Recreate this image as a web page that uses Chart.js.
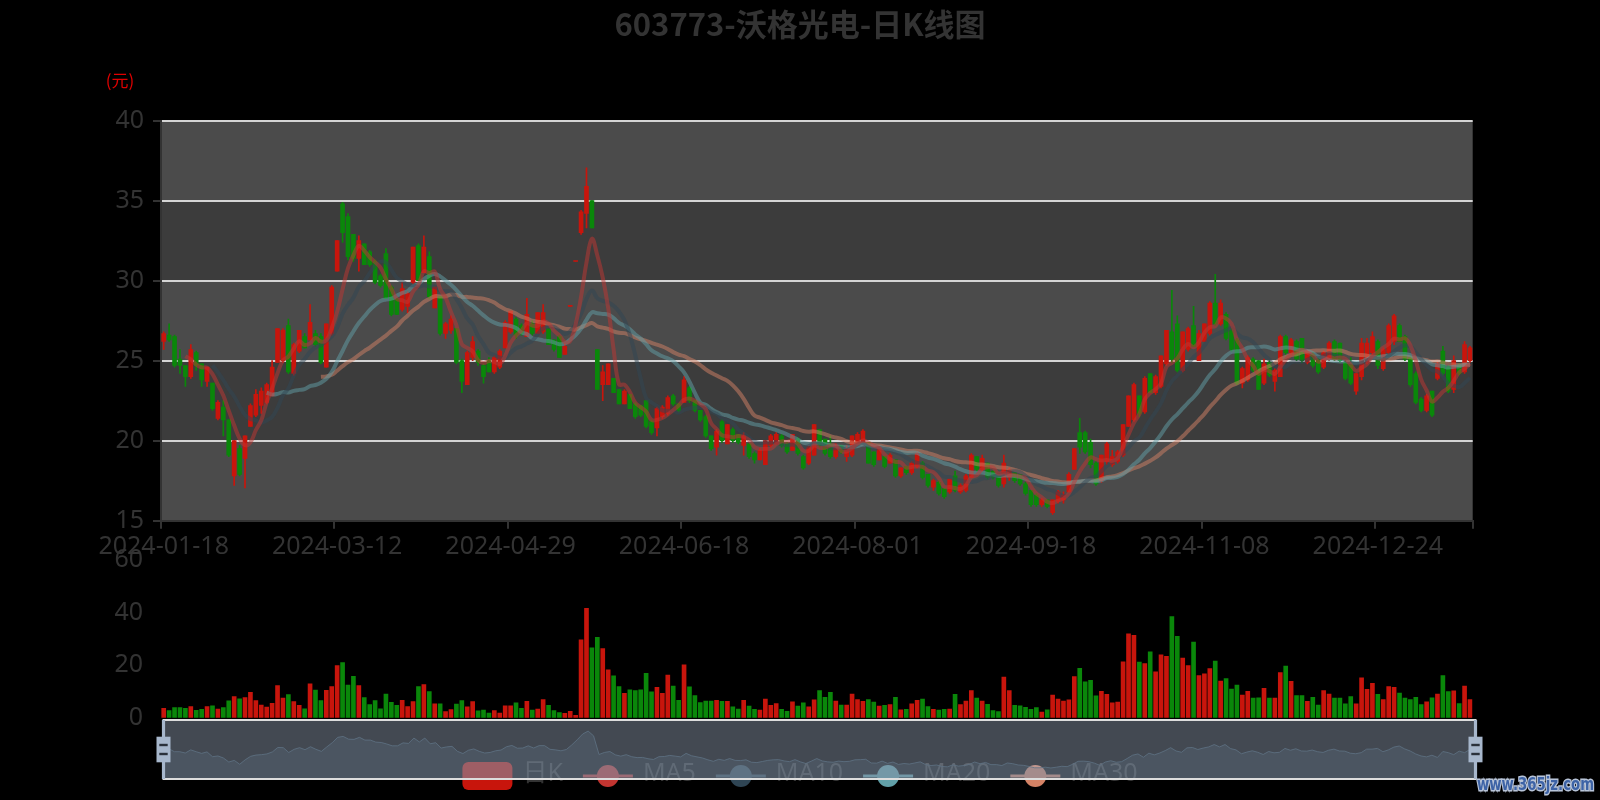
<!DOCTYPE html>
<html>
<head>
<meta charset="utf-8">
<script src="https://cdn.jsdelivr.net/npm/chart.js@4.4.0/dist/chart.umd.min.js"></script>
<style>
html, body { margin: 0; padding: 0; background: #000; }
#wrap { position: relative; width: 1600px; height: 800px; overflow: hidden; background: #000; }
canvas { position: absolute; left: 0; }
</style>
</head>
<body>
<div id="wrap">
  <canvas id="kline" width="1600" height="560" style="top:0px"></canvas>
  <canvas id="vol" width="1600" height="200" style="top:540px"></canvas>
  <canvas id="zoom" width="1600" height="85" style="top:715px"></canvas>
</div>
<script>
// 交易日
var dates = [
  '2024-01-18','2024-01-19','2024-01-22','2024-01-23','2024-01-24','2024-01-25','2024-01-26','2024-01-29','2024-01-30','2024-01-31',
  '2024-02-01','2024-02-02','2024-02-05','2024-02-06','2024-02-07','2024-02-08','2024-02-19','2024-02-20','2024-02-21','2024-02-22',
  '2024-02-23','2024-02-26','2024-02-27','2024-02-28','2024-02-29','2024-03-01','2024-03-04','2024-03-05','2024-03-06','2024-03-07',
  '2024-03-08','2024-03-11','2024-03-12','2024-03-13','2024-03-14','2024-03-15','2024-03-18','2024-03-19','2024-03-20','2024-03-21',
  '2024-03-22','2024-03-25','2024-03-26','2024-03-27','2024-03-28','2024-03-29','2024-04-01','2024-04-02','2024-04-03','2024-04-08',
  '2024-04-09','2024-04-10','2024-04-11','2024-04-12','2024-04-15','2024-04-16','2024-04-17','2024-04-18','2024-04-19','2024-04-22',
  '2024-04-23','2024-04-24','2024-04-25','2024-04-26','2024-04-29','2024-04-30','2024-05-06','2024-05-07','2024-05-08','2024-05-09',
  '2024-05-10','2024-05-13','2024-05-14','2024-05-15','2024-05-16','2024-05-17','2024-05-20','2024-05-21','2024-05-22','2024-05-23',
  '2024-05-24','2024-05-27','2024-05-28','2024-05-29','2024-05-30','2024-05-31','2024-06-03','2024-06-04','2024-06-05','2024-06-06',
  '2024-06-07','2024-06-11','2024-06-12','2024-06-13','2024-06-14','2024-06-17','2024-06-18','2024-06-19','2024-06-20','2024-06-21',
  '2024-06-24','2024-06-25','2024-06-26','2024-06-27','2024-06-28','2024-07-01','2024-07-02','2024-07-03','2024-07-04','2024-07-05',
  '2024-07-08','2024-07-09','2024-07-10','2024-07-11','2024-07-12','2024-07-15','2024-07-16','2024-07-17','2024-07-18','2024-07-19',
  '2024-07-22','2024-07-23','2024-07-24','2024-07-25','2024-07-26','2024-07-29','2024-07-30','2024-07-31','2024-08-01','2024-08-02',
  '2024-08-05','2024-08-06','2024-08-07','2024-08-08','2024-08-09','2024-08-12','2024-08-13','2024-08-14','2024-08-15','2024-08-16',
  '2024-08-19','2024-08-20','2024-08-21','2024-08-22','2024-08-23','2024-08-26','2024-08-27','2024-08-28','2024-08-29','2024-08-30',
  '2024-09-02','2024-09-03','2024-09-04','2024-09-05','2024-09-06','2024-09-09','2024-09-10','2024-09-11','2024-09-12','2024-09-13',
  '2024-09-18','2024-09-19','2024-09-20','2024-09-23','2024-09-24','2024-09-25','2024-09-26','2024-09-27','2024-09-30','2024-10-08',
  '2024-10-09','2024-10-10','2024-10-11','2024-10-14','2024-10-15','2024-10-16','2024-10-17','2024-10-18','2024-10-21','2024-10-22',
  '2024-10-23','2024-10-24','2024-10-25','2024-10-28','2024-10-29','2024-10-30','2024-10-31','2024-11-01','2024-11-04','2024-11-05',
  '2024-11-06','2024-11-07','2024-11-08','2024-11-11','2024-11-12','2024-11-13','2024-11-14','2024-11-15','2024-11-18','2024-11-19',
  '2024-11-20','2024-11-21','2024-11-22','2024-11-25','2024-11-26','2024-11-27','2024-11-28','2024-11-29','2024-12-02','2024-12-03',
  '2024-12-04','2024-12-05','2024-12-06','2024-12-09','2024-12-10','2024-12-11','2024-12-12','2024-12-13','2024-12-16','2024-12-17',
  '2024-12-18','2024-12-19','2024-12-20','2024-12-23','2024-12-24','2024-12-25','2024-12-26','2024-12-27','2024-12-30','2024-12-31',
  '2025-01-02','2025-01-03','2025-01-06','2025-01-07','2025-01-08','2025-01-09','2025-01-10','2025-01-13','2025-01-14','2025-01-15',
  '2025-01-16','2025-01-17'
];

// 开盘
var opens = [
  26.2,26.6,26.5,25.1,24.7,24.0,25.5,24.8,23.7,23.6,
  21.4,22.1,21.3,17.8,19.5,18.9,20.9,21.6,22.2,22.4,
  22.8,24.9,25.0,27.2,24.2,25.6,26.5,26.3,26.7,26.5,
  24.6,26.7,30.6,34.8,34.0,32.9,31.4,32.3,31.8,31.2,
  30.3,31.7,29.6,28.8,28.2,28.4,29.9,32.2,30.5,31.5,
  28.3,29.0,26.7,26.9,27.0,25.0,23.5,25.2,25.6,24.7,
  25.0,24.3,24.6,25.8,26.8,27.6,27.2,26.5,27.3,26.7,
  26.8,27.0,26.3,26.5,25.4,28.4,31.2,33.0,34.2,35.0,
  25.7,23.5,23.5,23.9,23.2,22.3,22.9,22.3,22.2,22.5,
  21.2,20.8,21.5,21.7,22.8,22.3,22.4,23.3,22.5,21.9,
  21.5,20.3,19.6,21.2,19.8,20.7,20.4,19.7,19.8,19.2,
  18.8,18.5,19.7,19.8,20.3,19.8,19.4,20.1,19.0,18.6,
  19.1,20.7,20.1,19.8,19.0,19.7,19.0,19.1,19.8,19.9,
  19.9,19.3,18.8,19.0,18.6,18.8,17.8,18.4,18.0,18.4,
  18.6,17.9,17.1,17.4,17.0,16.8,17.8,16.8,16.9,17.7,
  19.0,18.2,18.6,18.1,17.8,17.3,17.7,18.0,17.9,17.3,
  16.9,16.6,16.0,16.3,15.5,16.2,16.3,16.8,18.2,20.5,
  20.5,19.9,18.6,17.5,18.7,18.5,18.7,19.1,20.9,21.3,
  22.8,21.8,24.2,23.0,23.4,24.8,26.8,27.3,24.4,25.7,
  27.2,25.0,26.2,26.7,28.6,27.3,27.9,26.9,26.3,23.6,
  23.8,25.1,25.0,23.6,24.9,23.7,24.0,26.5,25.5,26.2,
  26.4,24.9,25.4,25.1,24.6,25.1,26.2,26.1,24.9,24.8,
  23.1,24.0,24.9,25.5,26.2,24.5,25.5,26.2,27.2,26.5,
  25.2,24.2,22.6,21.9,23.1,23.9,25.6,24.6,23.2,24.7,
  24.3,25.0
];

// 收盘
var closes = [
  26.7,26.3,24.7,24.7,24.0,25.7,24.7,23.8,24.6,22.0,
  22.4,21.3,19.1,20.0,17.9,20.3,22.2,22.9,23.1,23.5,
  24.6,27.0,26.9,24.3,26.0,26.9,25.8,27.4,26.0,24.9,
  27.3,29.6,32.5,33.0,31.5,31.4,32.5,31.0,31.0,29.9,
  29.7,28.9,27.9,27.9,29.5,29.2,32.1,30.0,32.1,29.0,
  29.6,26.7,27.3,27.6,24.9,23.7,25.5,26.2,24.9,24.0,
  24.3,25.2,25.6,27.4,28.1,26.6,26.7,27.9,26.7,28.0,
  28.0,26.0,25.7,25.2,25.9,28.4,31.2,34.3,35.9,33.3,
  23.2,24.3,24.8,23.0,22.3,23.1,22.0,21.5,21.6,20.9,
  20.5,22.0,22.1,22.7,22.3,21.9,23.8,22.5,21.9,21.3,
  20.3,19.5,20.6,20.0,21.0,20.0,19.9,20.3,19.0,18.8,
  19.4,20.0,20.3,20.4,19.7,19.3,20.4,19.2,18.3,19.6,
  21.0,19.7,19.2,19.0,19.6,19.3,19.5,20.3,20.4,20.6,
  18.6,18.5,19.6,18.4,19.1,17.8,18.3,18.0,18.6,19.2,
  17.7,17.2,17.5,16.7,16.5,17.6,16.9,17.2,17.8,19.1,
  18.2,18.9,17.7,17.7,17.2,18.6,18.2,17.5,17.3,16.7,
  16.0,16.0,16.3,15.9,16.3,16.8,16.6,17.9,19.5,19.6,
  19.3,18.5,17.3,19.1,19.8,19.0,19.3,21.0,22.8,23.5,
  21.7,23.9,23.0,24.0,25.3,26.9,25.1,24.4,26.8,27.0,
  25.9,26.7,27.3,28.6,27.3,28.6,26.4,25.7,23.6,24.5,
  25.2,24.4,23.2,24.8,24.1,24.4,26.5,25.5,26.3,25.1,
  25.0,25.6,24.7,24.3,25.5,26.1,25.1,25.0,23.9,23.6,
  24.2,26.1,26.1,26.5,24.7,25.7,27.2,27.8,26.2,25.1,
  23.5,22.4,21.9,22.8,21.6,24.8,24.2,23.1,25.0,24.2,
  26.0,25.8
];

// 最高
var highs = [
  26.8,27.3,26.6,25.7,24.7,26.0,25.6,24.8,24.6,23.6,
  22.5,22.5,21.3,20.0,19.7,20.3,22.3,23.2,23.3,23.6,
  25.0,27.0,27.0,27.6,26.1,26.9,26.7,28.5,26.9,26.7,
  27.3,29.7,32.5,34.9,34.2,32.9,32.8,32.3,31.9,31.3,
  30.4,32.0,29.7,28.9,29.9,29.3,32.1,32.3,32.8,31.8,
  29.6,29.0,27.4,27.8,27.0,25.1,25.6,26.5,25.7,24.8,
  25.2,25.3,25.7,27.5,28.1,27.7,27.3,28.9,27.5,28.0,
  28.5,27.0,26.3,26.6,26.1,28.4,31.2,34.4,37.05,35.0,
  25.7,24.7,24.8,23.9,23.2,23.2,22.9,22.4,22.2,22.5,
  21.3,22.1,22.2,22.8,22.9,22.3,24.0,23.4,22.5,21.9,
  21.6,20.3,20.7,21.3,21.0,20.8,20.4,20.5,19.8,19.3,
  19.5,20.0,20.4,20.5,20.4,19.9,20.4,20.2,19.1,19.7,
  21.0,20.7,20.1,20.3,19.8,19.7,19.7,20.3,20.5,20.7,
  19.9,19.3,19.7,19.0,19.2,18.8,18.3,18.4,18.7,19.3,
  18.7,17.9,17.6,17.5,17.0,17.6,18.1,17.3,17.9,19.2,
  19.0,19.1,18.6,18.1,17.8,19.1,18.3,18.0,17.9,17.4,
  16.9,16.7,16.4,16.3,16.3,16.9,16.8,18.0,19.5,21.4,
  20.6,20.1,18.7,19.1,19.9,19.4,19.4,21.0,22.8,23.6,
  22.8,24.0,24.2,24.1,25.3,26.9,29.4,27.8,26.8,27.1,
  28.4,26.9,27.3,28.7,30.4,28.8,28.0,27.0,26.4,24.6,
  25.3,25.2,25.0,25.1,25.0,24.5,26.6,26.6,26.4,26.3,
  26.4,25.7,25.5,25.2,25.6,26.2,26.3,26.1,25.0,25.2,
  24.2,26.4,26.4,26.8,26.3,25.8,27.3,27.9,27.3,26.6,
  25.3,24.3,22.7,22.9,23.1,24.9,25.9,24.7,25.3,24.8,
  26.2,25.9
];

// 最低
var lows = [
  25.7,26.2,24.6,24.2,23.4,23.9,24.4,23.4,23.4,21.9,
  21.3,20.3,19.0,17.2,17.8,17.05,20.9,21.5,21.7,22.3,
  22.8,24.9,24.9,24.2,24.1,25.5,25.8,26.3,25.9,24.8,
  24.6,26.6,30.6,32.4,31.3,31.2,30.6,31.0,30.9,29.8,
  29.6,28.9,27.8,27.9,28.1,28.0,29.8,30.0,30.5,28.9,
  28.3,26.6,26.4,26.7,24.8,23.0,23.5,25.0,24.7,23.6,
  24.3,24.2,24.5,25.8,26.7,26.4,26.6,26.5,26.6,26.7,
  26.7,26.0,25.6,25.2,25.4,28.4,31.2,32.9,33.3,33.3,
  23.2,22.5,23.5,23.0,22.3,22.3,22.0,21.4,21.5,20.8,
  20.4,20.3,21.4,21.6,22.2,21.8,22.4,22.4,21.8,21.2,
  20.2,19.4,19.1,19.9,19.8,19.9,19.8,19.1,18.9,18.6,
  18.8,18.5,19.6,19.8,19.6,19.2,19.4,19.1,18.2,18.5,
  19.1,19.6,19.1,18.9,18.9,19.2,18.7,19.0,19.8,19.9,
  18.6,18.4,18.8,18.3,18.6,17.7,17.7,17.9,17.9,18.3,
  17.6,17.1,16.9,16.6,16.4,16.7,16.8,16.7,16.8,17.7,
  18.1,18.1,17.6,17.6,17.1,17.1,17.5,17.4,17.2,16.6,
  15.9,15.9,15.9,15.8,15.4,16.1,16.1,16.8,18.2,19.2,
  19.2,18.3,17.2,17.4,18.5,18.4,18.6,19.0,20.9,21.2,
  21.5,21.7,23.0,22.9,23.3,24.7,24.9,24.3,24.3,25.6,
  25.9,25.0,26.2,26.6,27.2,27.2,26.3,25.6,23.5,23.3,
  23.7,24.3,23.2,23.5,24.0,23.1,24.0,25.4,25.4,25.0,
  24.9,24.8,24.6,24.2,24.5,25.0,25.0,24.9,23.8,23.5,
  22.9,23.8,24.8,25.4,24.5,24.4,25.4,26.0,26.2,25.0,
  23.4,22.3,21.8,21.8,21.5,23.8,24.1,23.0,23.0,24.1,
  24.2,24.9
];

// 成交量
var volumes = [
  3.7,2.8,3.9,3.9,3.7,4.3,2.9,3.3,4.3,4.6,
  3.4,3.9,6.5,8.1,7.3,7.7,9.7,6.6,4.9,4.1,
  5.6,12.3,7.5,8.9,6.2,4.8,3.5,12.9,10.6,6.6,
  10.5,11.9,19.9,21.0,12.5,15.8,12.3,7.7,5.1,6.6,
  3.5,9.1,5.9,4.8,6.7,4.3,6.2,11.9,12.7,10.0,
  5.4,5.4,2.4,3.2,5.3,6.6,4.2,6.2,2.7,3.0,
  1.9,2.8,1.9,4.6,4.6,5.7,3.7,6.3,3.0,3.4,
  7.0,4.8,2.8,2.1,1.8,2.5,1.0,29.6,41.5,26.6,
  30.6,26.3,18.2,16.0,11.9,9.3,10.7,10.4,10.7,16.9,
  9.9,11.6,9.3,16.3,12.1,6.7,20.1,11.8,8.5,5.8,
  6.4,6.4,6.7,6.3,6.3,4.2,3.4,6.7,4.5,3.3,
  3.0,7.2,4.8,5.5,3.3,2.5,6.1,4.5,5.7,4.2,
  6.9,10.4,7.8,9.7,6.4,4.9,4.9,9.1,7.0,6.3,
  7.0,6.0,4.5,4.8,5.1,7.8,3.1,3.3,5.4,6.7,
  7.2,4.3,3.3,3.0,3.3,3.4,9.0,5.1,6.4,10.4,
  7.5,6.4,5.2,2.8,2.4,15.5,10.4,4.8,4.6,4.0,
  3.3,3.9,2.2,3.1,8.7,7.2,6.4,6.9,15.7,18.8,
  13.7,14.3,8.4,10.1,9.0,5.7,6.0,21.3,31.9,31.3,
  21.2,20.6,25.1,17.5,23.9,23.4,38.4,30.9,22.7,19.9,
  28.8,16.1,16.7,18.7,21.6,14.0,14.9,11.0,12.5,8.7,
  10.1,7.5,7.6,11.2,7.5,7.5,17.2,19.7,13.9,8.5,
  8.5,6.3,7.8,4.9,10.4,9.1,7.5,7.5,5.4,8.1,
  5.4,15.2,10.9,13.1,9.0,7.0,11.9,11.6,9.4,7.5,
  7.0,7.8,5.1,6.1,7.6,9.1,16.1,10.0,10.3,5.5,
  12.1,7.0
];

var priceTicks = [15, 20, 25, 30, 35, 40];
var volumeTicks = [0, 20, 40, 60];
var maPeriods = [5, 10, 20, 30];
var maNames = ['MA5', 'MA10', 'MA20', 'MA30'];
var maColors = ['#c23531', '#2f4554', '#61a0a8', '#d48265'];
var titleText = '603773-沃格光电-日K线图';
var unitText = '(元)';

var upColor = '#c8150c';
var downColor = '#0a870a';
var textColor = '#333';
var FONT = '"Noto Sans", "Noto Sans CJK SC", sans-serif';
var labelEvery = 32;

Chart.defaults.font.family = FONT;

function alpha(hex, a) {
  var n = parseInt(hex.slice(1), 16);
  return 'rgba(' + (n >> 16) + ',' + ((n >> 8) & 255) + ',' + (n & 255) + ',' + a + ')';
}

// 均线
function calcMA(n) {
  return closes.map(function (c, i) {
    if (i < n - 1) return null;
    var s = 0;
    for (var k = i - n + 1; k <= i; k++) s += closes[k];
    return +(s / n).toFixed(3);
  });
}

// 涨红跌绿
var candleColors = closes.map(function (c, i) {
  if (c > opens[i]) return upColor;
  if (c < opens[i]) return downColor;
  return (i > 0 && c >= closes[i - 1]) ? upColor : downColor;
});

function yWidth(s) { s.width = 161; }

// 背景分隔区 + 标题
var kDecor = {
  id: 'kDecor',
  beforeDraw: function (chart) {
    var ctx = chart.ctx, a = chart.chartArea, y = chart.scales.y;
    ctx.save();
    for (var k = 0; k < priceTicks.length - 1; k++) {
      var top = y.getPixelForValue(priceTicks[k + 1]);
      var bot = y.getPixelForValue(priceTicks[k]);
      ctx.fillStyle = k % 2 === 0 ? 'rgba(250,250,250,0.3)' : 'rgba(200,200,200,0.3)';
      ctx.fillRect(a.left, top, a.right - a.left, bot - top);
    }
    ctx.restore();
  },
  afterDraw: function (chart) {
    var ctx = chart.ctx;
    ctx.save();
    ctx.textAlign = 'center';
    ctx.textBaseline = 'middle';
    ctx.fillStyle = textColor;
    ctx.font = 'bold 31px "Noto Sans CJK SC", sans-serif';
    ctx.fillText(titleText, 800, 24);
    ctx.fillStyle = '#e00000';
    ctx.font = '17px "Noto Sans CJK SC", sans-serif';
    ctx.fillText(unitText, 120, 81);
    ctx.restore();
  }
};

var kChart = new Chart(document.getElementById('kline'), {
  type: 'bar',
  data: {
    labels: dates,
    datasets: [
      {
        label: 'wick',
        data: lows.map(function (l, i) { return [l, highs[i]]; }),
        backgroundColor: candleColors,
        barThickness: 1,
        grouped: false,
        order: 3
      },
      {
        label: '日K',
        data: opens.map(function (o, i) { return [o, closes[i]]; }),
        backgroundColor: candleColors,
        barThickness: 4,
        minBarLength: 1,
        grouped: false,
        order: 2
      }
    ].concat(maPeriods.map(function (p, k) {
      return {
        type: 'line',
        label: maNames[k],
        data: calcMA(p),
        borderColor: alpha(maColors[k], 0.5),
        borderWidth: 4,
        pointRadius: 0,
        tension: 0.4,
        fill: false,
        order: 1
      };
    }))
  },
  options: {
    responsive: false,
    animation: false,
    layout: { padding: { left: 0, right: 127.3, top: 120.7, bottom: 0 } },
    plugins: { legend: { display: false }, tooltip: { enabled: false } },
    scales: {
      x: {
        offset: true,
        grid: {
          offset: true,
          drawOnChartArea: false,
          drawTicks: true,
          tickLength: 8,
          lineWidth: 2,
          color: function (c) {
            return (c.index === undefined || c.index % labelEvery === 0) ? textColor : 'rgba(0,0,0,0)';
          }
        },
        border: { display: true, color: textColor, width: 2 },
        ticks: {
          autoSkip: false,
          maxRotation: 0,
          minRotation: 0,
          color: textColor,
          font: { size: 25 },
          padding: 3.5,
          callback: function (v, i) { return i % labelEvery === 0 ? dates[i] : ''; }
        },
        afterFit: function (s) { s.height = 39.3; }
      },
      y: {
        min: priceTicks[0],
        max: priceTicks[priceTicks.length - 1],
        afterBuildTicks: function (s) { s.ticks = priceTicks.map(function (v) { return { value: v }; }); },
        ticks: { color: textColor, font: { size: 25 }, padding: 9 },
        grid: {
          color: function (c) { return c.tick && c.tick.value === priceTicks[0] ? 'rgba(0,0,0,0)' : '#d4d4d4'; },
          lineWidth: 2,
          tickColor: textColor,
          tickLength: 8,
          tickWidth: 2
        },
        border: { color: textColor, width: 2 },
        afterFit: yWidth
      }
    }
  },
  plugins: [kDecor]
});

// 成交量
var volChart = new Chart(document.getElementById('vol'), {
  type: 'bar',
  data: {
    labels: dates,
    datasets: [{
      label: 'volume',
      data: volumes,
      backgroundColor: candleColors,
      barThickness: 4
    }]
  },
  options: {
    responsive: false,
    animation: false,
    layout: { padding: { left: 0, right: 127.3, top: 19.6, bottom: 22 } },
    plugins: { legend: { display: false }, tooltip: { enabled: false } },
    scales: {
      x: { display: false },
      y: {
        min: volumeTicks[0],
        max: volumeTicks[volumeTicks.length - 1],
        afterBuildTicks: function (s) { s.ticks = volumeTicks.map(function (v) { return { value: v }; }); },
        ticks: { color: textColor, font: { size: 25 }, padding: 1 },
        grid: { display: true, drawOnChartArea: false, drawTicks: true, tickLength: 17, color: 'rgba(0,0,0,0)' },
        border: { display: false },
        afterFit: yWidth
      }
    }
  }
});

// 缩放条 + 图例
var sliderBox = { left: 163.5, top: 5, width: 1312, height: 59 };
var lo = Math.min.apply(null, closes), hi = Math.max.apply(null, closes);
var pad = (hi - lo) * 0.3;

var legendItems = [{ text: '日K', color: upColor, rect: true }].concat(maNames.map(function (n, k) {
  return { text: n, color: maColors[k], rect: false };
}));

function drawHandle(ctx, cx, top, h) {
  var cy = top + h / 2;
  ctx.fillStyle = '#a7b7cc';
  ctx.fillRect(cx - 1.6, top, 3.2, h);
  ctx.fillRect(cx - 7, cy - 12.8, 14, 25.6);
  ctx.fillStyle = '#2a313b';
  ctx.fillRect(cx - 4.2, cy - 5.7, 8.4, 2.4);
  ctx.fillRect(cx - 4.2, cy + 3.3, 8.4, 2.4);
}

var zoomDecor = {
  id: 'zoomDecor',
  beforeDraw: function (chart) {
    var ctx = chart.ctx;
    ctx.save();
    ctx.font = '25px ' + FONT;
    var widths = legendItems.map(function (it) { return 60 + ctx.measureText(it.text).width; });
    var total = widths.reduce(function (a, b) { return a + b; }, 0) + 20 * (legendItems.length - 1);
    var x = 800 - total / 2, cy = 61;
    legendItems.forEach(function (it, k) {
      ctx.fillStyle = it.color;
      if (it.rect) {
        ctx.beginPath();
        ctx.roundRect(x, cy - 14, 50, 28, 6);
        ctx.fill();
      } else {
        ctx.fillRect(x, cy - 1.5, 50, 3);
        ctx.beginPath();
        ctx.arc(x + 25, cy, 11, 0, Math.PI * 2);
        ctx.fill();
      }
      ctx.fillStyle = textColor;
      ctx.textBaseline = 'middle';
      ctx.textAlign = 'left';
      ctx.fillText(it.text, x + 60, cy - 2);
      x += widths[k] + 20;
    });
    ctx.restore();
  },
  afterDatasetsDraw: function (chart) {
    var ctx = chart.ctx, b = sliderBox;
    ctx.save();
    ctx.fillStyle = 'rgba(167,183,204,0.4)';
    ctx.fillRect(b.left, b.top, b.width, b.height);
    ctx.strokeStyle = '#dddddd';
    ctx.lineWidth = 2;
    ctx.strokeRect(b.left, b.top, b.width, b.height);
    drawHandle(ctx, b.left, b.top, b.height);
    drawHandle(ctx, b.left + b.width, b.top, b.height);
    ctx.restore();
  },
  afterDraw: function (chart) {
    var ctx = chart.ctx;
    ctx.save();
    ctx.font = 'bold 18px "DejaVu Sans", sans-serif';
    ctx.textBaseline = 'middle';
    ctx.textAlign = 'left';
    ctx.lineWidth = 3;
    ctx.strokeStyle = '#b8c4d8';
    ctx.strokeText('www.365jz.com', 1477, 70, 117);
    ctx.fillStyle = '#3d63a6';
    ctx.fillText('www.365jz.com', 1477, 70, 117);
    ctx.restore();
  }
};

var zoomChart = new Chart(document.getElementById('zoom'), {
  type: 'line',
  data: {
    labels: dates,
    datasets: [{
      label: 'shadow',
      data: closes,
      borderColor: '#2f4554',
      borderWidth: 0.8,
      backgroundColor: 'rgba(47,69,84,0.3)',
      fill: 'start',
      pointRadius: 0,
      tension: 0
    }]
  },
  options: {
    responsive: false,
    animation: false,
    layout: { padding: { left: sliderBox.left, right: 1600 - sliderBox.left - sliderBox.width, top: sliderBox.top, bottom: 85 - sliderBox.top - sliderBox.height } },
    plugins: { legend: { display: false }, tooltip: { enabled: false } },
    scales: {
      x: { display: false, offset: false },
      y: { display: false, min: lo - pad, max: hi + pad }
    }
  },
  plugins: [zoomDecor]
});
</script>
</body>
</html>
